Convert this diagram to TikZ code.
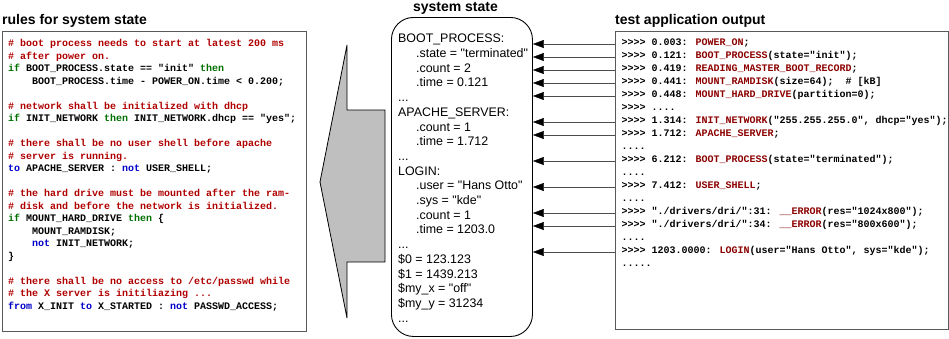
\documentclass[tikz,border=0pt]{standalone}
\usepackage{fontspec}
\usetikzlibrary{arrows.meta}

\newfontfamily\arialfont{Liberation Sans}
\newfontfamily\courfont{Liberation Mono}

\definecolor{cmtred}{RGB}{176,0,0}
\definecolor{kwgreen}{RGB}{0,112,0}
\definecolor{kwblue}{RGB}{0,0,200}
\definecolor{evred}{RGB}{140,0,0}

\newcommand{\cmt}[1]{\textcolor{cmtred}{#1}}
\newcommand{\kwif}[1]{\textcolor{kwgreen}{#1}}
\newcommand{\kwto}[1]{\textcolor{kwblue}{#1}}
\newcommand{\ev}[1]{\textcolor{evred}{#1}}
\newcommand{\codeind}{\hspace*{24pt}}
\newcommand{\fieldind}{\hspace*{18pt}}

\tikzset{
  heading/.style={font=\arialfont\bfseries\fontsize{14}{17}\selectfont,inner sep=0,anchor=base west},
  panel/.style={draw=black!65,line width=1pt,anchor=north west},
  listing/.style={font=\courfont\bfseries\fontsize{10}{12.5}\selectfont,inner sep=0,align=left,anchor=north west},
  logline/.style={font=\courfont\bfseries\fontsize{10}{13}\selectfont,inner sep=0,anchor=west,text height=6pt,text depth=3pt},
}

\begin{document}
\begin{tikzpicture}[x=1pt,y=-1pt,>={Triangle[length=11pt,width=8pt,color=black]}]
\useasboundingbox (0,0) rectangle (949,338);

% the three panels
\node[panel,minimum width=304pt,minimum height=300pt] (rules) at (1.5,30.5) {};
\node[panel,draw=black,line width=0.9pt,rounded corners=22pt,minimum width=141pt,minimum height=319pt] (state) at (391,17) {};
\node[panel,minimum width=333pt,minimum height=298.5pt] (out) at (615,30.5) {};

\node[heading] (rulestitle) at (2,24) {rules for system state};
\node[heading,anchor=base] (statetitle) at (455.5,11) {system state};
\node[heading] (outtitle) at (615,24) {test application output};

% rules derived from the state
\node[listing] (code) at (8,39.5) {%
\cmt{\# boot process needs to start at latest 200 ms}\\
\cmt{\# after power on.}\\
\kwif{if} BOOT\_PROCESS.state == "init" \kwif{then}\\
\codeind BOOT\_PROCESS.time - POWER\_ON.time < 0.200;\\
\mbox{}\\
\cmt{\# network shall be initialized with dhcp}\\
\kwif{if} INIT\_NETWORK \kwif{then} INIT\_NETWORK.dhcp == "yes";\\
\mbox{}\\
\cmt{\# there shall be no user shell before apache}\\
\cmt{\# server is running.}\\
\kwto{to} APACHE\_SERVER : \kwto{not} USER\_SHELL;\\
\mbox{}\\
\cmt{\# the hard drive must be mounted after the ram-}\\
\cmt{\# disk and before the network is initialized.}\\
\kwif{if} MOUNT\_HARD\_DRIVE \kwif{then} \{\\
\codeind MOUNT\_RAMDISK;\\
\codeind \kwto{not} INIT\_NETWORK;\\
\}\\
\mbox{}\\
\cmt{\# there shall be no access to /etc/passwd while}\\
\cmt{\# the X server is initiliazing ...}\\
\kwto{from} X\_INIT \kwto{to} X\_STARTED : \kwto{not} PASSWD\_ACCESS;};

% state collected from the output
\node[inner sep=0,align=left,anchor=north west,font=\arialfont\fontsize{12.4}{14.7}\selectfont] (fields) at (398,34) {%
BOOT\_PROCESS:\\
\fieldind .state = "terminated"\\
\fieldind .count = 2\\
\fieldind .time = 0.121\\
...\\
APACHE\_SERVER:\\
\fieldind .count = 1\\
\fieldind .time = 1.712\\
...\\
LOGIN:\\
\fieldind .user = "Hans Otto"\\
\fieldind .sys = "kde"\\
\fieldind .count = 1\\
\fieldind .time = 1203.0\\
...\\
\$0 = 123.123\\
\$1 = 1439.213\\
\$my\_x = "off"\\
\$my\_y = 31234\\
...};

% big arrow towards the rules
\draw[fill=gray!50,line width=0.8pt] (320,182) -- (347,45) -- (347,110) -- (385,110)
  -- (385,262) -- (347,262) -- (347,318) -- cycle;

% output lines
\node[logline] (r1) at (621.5,44) {>>>> 0.003: \ev{POWER\_ON};};
\node[logline] (r2) at (621.5,57) {>>>> 0.121: \ev{BOOT\_PROCESS}(state="init");};
\node[logline] (r3) at (621.5,70) {>>>> 0.419: \ev{READING\_MASTER\_BOOT\_RECORD};};
\node[logline] (r4) at (621.5,83) {>>>> 0.441: \ev{MOUNT\_RAMDISK}(size=64);\ \ \# [kB]};
\node[logline] (r5) at (621.5,96) {>>>> 0.448: \ev{MOUNT\_HARD\_DRIVE}(partition=0);};
\node[logline] (r6) at (621.5,109) {>>>> ....};
\node[logline] (r7) at (621.5,122) {>>>> 1.314: \ev{INIT\_NETWORK}("255.255.255.0", dhcp="yes");};
\node[logline] (r8) at (621.5,135) {>>>> 1.712: \ev{APACHE\_SERVER};};
\node[logline] (r9) at (621.5,148) {....};
\node[logline] (r10) at (621.5,161) {>>>> 6.212: \ev{BOOT\_PROCESS}(state="terminated");};
\node[logline] (r11) at (621.5,174) {....};
\node[logline] (r12) at (621.5,187) {>>>> 7.412: \ev{USER\_SHELL};};
\node[logline] (r13) at (621.5,200) {....};
\node[logline] (r14) at (621.5,213) {>>>> "./drivers/dri/":31: \ev{\_\_ERROR}(res="1024x800");};
\node[logline] (r15) at (621.5,226) {>>>> "./drivers/dri/":34: \ev{\_\_ERROR}(res="800x600");};
\node[logline] (r16) at (621.5,239) {....};
\node[logline] (r17) at (621.5,252) {>>>> 1203.0000: \ev{LOGIN}(user="Hans Otto", sys="kde");};
\node[logline] (r18) at (621.5,265) {.....};

% each event updates the state
\draw[<-,black!70] (r1.west -| state.east) -- (r1.west -| out.west);
\draw[<-,black!70] (r2.west -| state.east) -- (r2.west -| out.west);
\draw[<-,black!70] (r3.west -| state.east) -- (r3.west -| out.west);
\draw[<-,black!70] (r4.west -| state.east) -- (r4.west -| out.west);
\draw[<-,black!70] (r5.west -| state.east) -- (r5.west -| out.west);
\draw[<-,black!70] (r7.west -| state.east) -- (r7.west -| out.west);
\draw[<-,black!70] (r8.west -| state.east) -- (r8.west -| out.west);
\draw[<-,black!70] (r10.west -| state.east) -- (r10.west -| out.west);
\draw[<-,black!70] (r12.west -| state.east) -- (r12.west -| out.west);
\draw[<-,black!70] (r14.west -| state.east) -- (r14.west -| out.west);
\draw[<-,black!70] (r15.west -| state.east) -- (r15.west -| out.west);
\draw[<-,black!70] (r17.west -| state.east) -- (r17.west -| out.west);

\end{tikzpicture}
\end{document}
